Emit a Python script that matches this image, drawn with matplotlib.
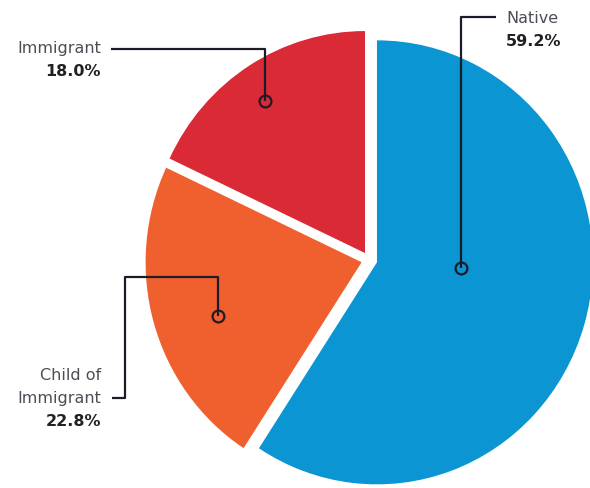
import matplotlib.pyplot as plt

# Daten
labels = ["Native", "Child of\nImmigrant", "Immigrant"]
shares = [59.2, 22.8, 18.0]
colors = ["#0b96d3", "#f05f2e", "#d92a36"]

W, H = 590, 489
CX, CY = 369.3, 261.0      # pie centre in pixels
RX, RY = 216.0, 222.0      # slight vertical stretch as in the scan


def px(x, y):
    # pixel position -> data coordinates (radius 1)
    return (x - CX) / RX, (CY - y) / RY


fig = plt.figure(figsize=(W / 100, H / 100), dpi=100)
ax = fig.add_axes([0, 0, 1, 1])
ax.pie(shares, colors=colors, startangle=90, counterclock=False,
       explode=[8 / RX] * len(shares), radius=1,
       wedgeprops=dict(linewidth=0))
ax.set_xlim(-CX / RX, (W - CX) / RX)
ax.set_ylim(-(H - CY) / RY, CY / RY)
ax.set_aspect("auto")
ax.axis("off")

line_kw = dict(color="#1c1c28", lw=1.6, solid_capstyle="butt", zorder=3)
lab_kw = dict(fontsize=11.5, color="#4d4d57", family="DejaVu Sans")
pct_kw = dict(fontsize=11.5, color="#222222", fontweight="bold", family="DejaVu Sans")

# Leader-Linien (Pixelpfade) mit Kreis am Ende
paths = {
    "Native": [(461, 269), (461, 18), (496, 18)],
    "Immigrant": [(265, 102), (265, 50), (111, 50)],
    "Child": [(218, 317), (218, 278), (125, 278), (125, 399), (112, 399)],
}
for pts in paths.values():
    xs, ys = zip(*[px(*p) for p in pts])
    ax.plot(xs, ys, **line_kw)
    ax.plot(xs[0], ys[0], "o", ms=8.5, mfc="none", mec="#1c1c28", mew=1.6, zorder=4)

# Beschriftungen
x, y = px(506, 18)
ax.text(x, y, labels[0], ha="left", va="center", **lab_kw)
x, y = px(506, 42)
ax.text(x, y, f"{shares[0]:.1f}%", ha="left", va="center", **pct_kw)

x, y = px(101, 49)
ax.text(x, y, labels[2], ha="right", va="center", **lab_kw)
x, y = px(101, 72)
ax.text(x, y, f"{shares[2]:.1f}%", ha="right", va="center", **pct_kw)

for line, ypx in zip(labels[1].split("\n"), [376, 399]):
    x, y = px(101, ypx)
    ax.text(x, y, line, ha="right", va="center", **lab_kw)
x, y = px(101, 422)
ax.text(x, y, f"{shares[1]:.1f}%", ha="right", va="center", **pct_kw)

fig.savefig("out.png", dpi=100)
